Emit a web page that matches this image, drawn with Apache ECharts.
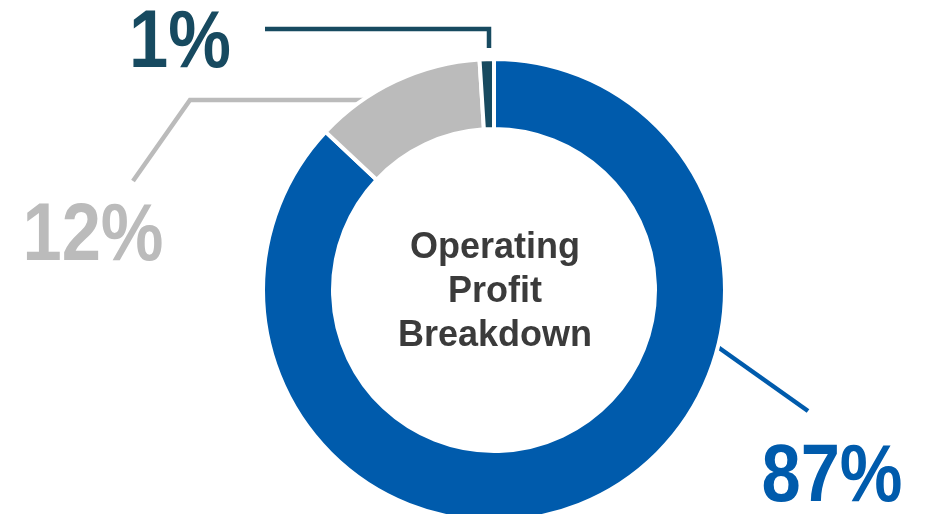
<!DOCTYPE html>
<html>
<head>
<meta charset="utf-8">
<script src="https://cdn.jsdelivr.net/npm/echarts@6/dist/echarts.min.js"></script>
<style>
  html, body { margin: 0; padding: 0; background: #ffffff; }
  #chart { width: 926px; height: 514px; }
</style>
</head>
<body>
<div id="chart"></div>
<script>
// Segment names, shares (%) and colours, clockwise from 12 o'clock
const segments = ['Segment A', 'Segment B', 'Segment C'];
const shares = [87, 12, 1];
const segmentColors = ['#005bac', '#bbbbbb', '#174a60'];
const centerTitle = ['Operating', 'Profit', 'Breakdown'];

// Ring geometry
const CX = 494, CY = 290;
const R_IN = 161, R_OUT = 231;

const LABEL_FONT = '"Liberation Sans", Arial, sans-serif';

// Callout placement: text anchor and leader-line bends for each segment
const calloutLayout = [
  { x: 832, y: 479, line: [[715, 345], [808, 411]] },
  { x: 93, y: 238, line: [[373, 100], [190, 100], [133, 181]] },
  { x: 180, y: 45, line: [[CX - 5, CY - 242], [CX - 5, 29], [265, 29]] }
];

const chart = echarts.init(document.getElementById('chart'), null, { renderer: 'canvas' });

// Value callouts: condensed bold percentage plus its leader line
const callouts = shares.map((v, i) => {
  const c = calloutLayout[i];
  return {
    type: 'group',
    silent: true,
    children: [
      {
        type: 'polyline',
        shape: { points: c.line },
        style: { stroke: segmentColors[i], lineWidth: 4.5, fill: null, lineJoin: 'miter' }
      },
      {
        type: 'text',
        x: c.x,
        y: c.y,
        scaleX: 0.87,
        style: {
          text: v + '%',
          align: 'center',
          verticalAlign: 'middle',
          fontFamily: LABEL_FONT,
          fontWeight: 'bold',
          fontSize: 81,
          fill: segmentColors[i]
        }
      }
    ]
  };
});

const option = {
  backgroundColor: '#ffffff',
  animation: false,
  series: [{
    type: 'pie',
    center: [CX, CY],
    radius: [R_IN, R_OUT],
    startAngle: 90,
    clockwise: true,
    silent: true,
    label: { show: false },
    labelLine: { show: false },
    itemStyle: { borderColor: '#ffffff', borderWidth: 4 },
    data: segments.map((name, i) => ({
      name,
      value: shares[i],
      itemStyle: { color: segmentColors[i] }
    }))
  }],
  graphic: callouts.concat([{
    type: 'text',
    x: CX + 1,
    y: CY + 2,
    silent: true,
    style: {
      text: centerTitle.join('\n'),
      align: 'center',
      verticalAlign: 'middle',
      fontFamily: '"Liberation Sans", Arial, sans-serif',
      fontWeight: 'bold',
      fontSize: 36,
      lineHeight: 44,
      fill: '#3b3b3b'
    }
  }])
};

chart.setOption(option);
</script>
</body>
</html>
